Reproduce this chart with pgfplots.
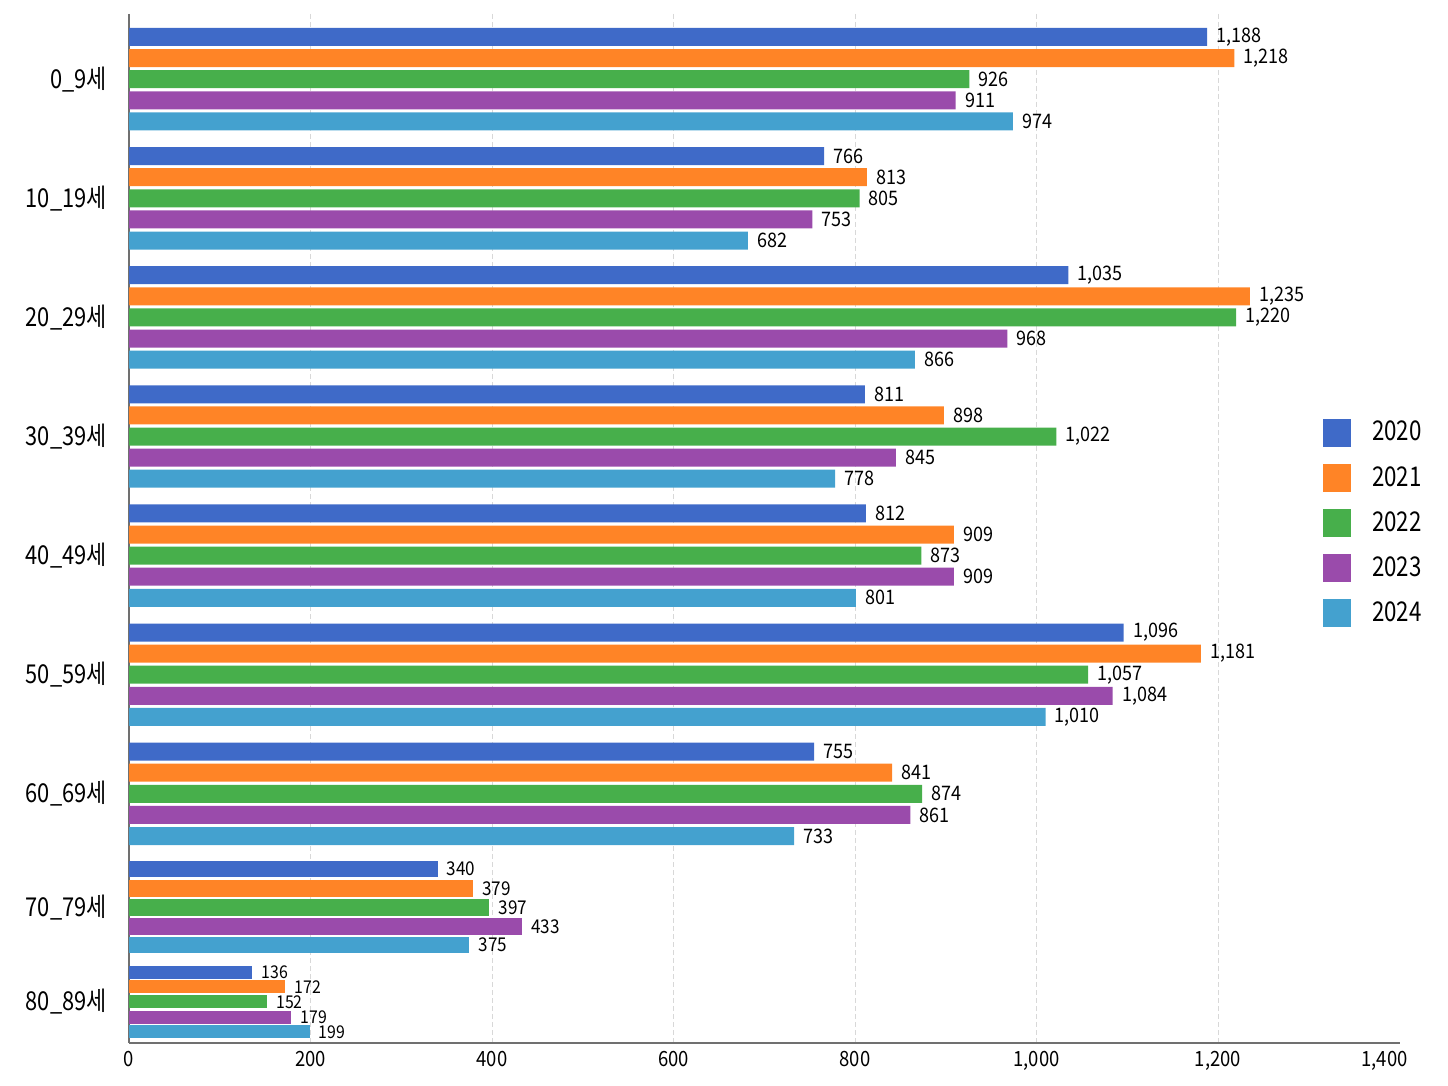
\documentclass[border=0pt]{standalone}
\usepackage{pgfplots}
\pgfplotsset{compat=1.18}
\usepackage{fontspec}
\setmainfont{Noto Sans CJK KR}
\newfontfamily\condfont{Noto Sans CJK KR}[FakeStretch=0.84]
\newfontfamily\legfont{Noto Sans CJK KR}[FakeStretch=0.82]
\newfontfamily\valfont{Noto Sans CJK KR}[FakeStretch=0.9]
\newfontfamily\tickfont{Noto Sans CJK KR}[FakeStretch=0.88]
\definecolor{cA}{HTML}{3F6AC8}
\definecolor{cB}{HTML}{FF8426}
\definecolor{cC}{HTML}{47AF4B}
\definecolor{cD}{HTML}{9A4BAB}
\definecolor{cE}{HTML}{44A1CF}
\definecolor{axisgray}{HTML}{707070}
\definecolor{gridgray}{HTML}{D8D8D8}
\begin{document}
\begin{tikzpicture}
\useasboundingbox (0,0) rectangle (724bp,543bp);
\begin{axis}[
  at={(64.5bp,21.5bp)}, anchor=south west,
  scale only axis, width=635.25bp, height=514.5bp,
  xmin=0, xmax=1400, ymin=14, ymax=1043, y dir=reverse,
  axis lines=left, axis line style={draw=axisgray, line width=0.75bp, -},
  major tick length=0pt, tick style={draw=none},
  /pgf/number format/.cd, 1000 sep={,}, assume math mode=true, /pgfplots/.cd,
  xtick={0,200,...,1200},
  xmajorgrids, major grid style={draw=gridgray, line width=0.5bp, dash pattern=on 2.5bp off 1.5bp},
  extra x ticks={1400},
  extra x tick style={grid=none, xticklabel style={xshift=-7.5bp}},
  xticklabel style={font=\tickfont\fontsize{10.5bp}{12bp}\selectfont, anchor=north, inner sep=0pt, yshift=-4bp},
  ytick={79.2,198.3,317.4,436.5,555.6,674.7,793.8,907.3,1001.9},
  yticklabels={0\_9세,10\_19세,20\_29세,30\_39세,40\_49세,50\_59세,60\_69세,70\_79세,80\_89세},
  yticklabel style={font=\condfont\fontsize{13bp}{15bp}\selectfont, anchor=east, inner sep=0pt, xshift=-11bp},
  mybar/.style={xbar, draw=none, bar shift=0pt, nodes near coords,
    every node near coord/.append style={anchor=west, inner sep=0pt, xshift=4.5bp, text=black, font=\valfont\fontsize{10bp}{12bp}\selectfont}},
  smallA/.style={every node near coord/.append style={font=\valfont\fontsize{9.5bp}{11bp}\selectfont}},
  smallB/.style={every node near coord/.append style={font=\valfont\fontsize{8.8bp}{10bp}\selectfont}},
  legend cell align=left,
  legend image code/.code={\fill[#1] (0bp,-7bp) rectangle (14bp,7bp);},
  legend style={draw=none, fill=none, inner sep=0pt, outer sep=0pt,
    row sep=8.6bp, column sep=10.5bp,
    nodes={inner sep=0pt, font=\legfont\fontsize{13.6bp}{15bp}\selectfont},
    at={(axis cs:1315.7,418.5)}, anchor=north west},
]
% 2020
\addplot[mybar, fill=cA, bar width=18] coordinates {(1188,37.0) (766,156.1) (1035,275.2) (811,394.3) (812,513.4) (1096,632.5) (755,751.6)};
\addlegendentry{2020}
% 2021
\addplot[mybar, fill=cB, bar width=18] coordinates {(1218,58.1) (813,177.2) (1235,296.3) (898,415.4) (909,534.5) (1181,653.6) (841,772.7)};
\addlegendentry{2021}
% 2022
\addplot[mybar, fill=cC, bar width=18] coordinates {(926,79.2) (805,198.3) (1220,317.4) (1022,436.5) (873,555.6) (1057,674.7) (874,793.8)};
\addlegendentry{2022}
% 2023
\addplot[mybar, fill=cD, bar width=18] coordinates {(911,100.3) (753,219.4) (968,338.5) (845,457.6) (909,576.7) (1084,695.8) (861,814.9)};
\addlegendentry{2023}
% 2024
\addplot[mybar, fill=cE, bar width=18] coordinates {(974,121.4) (682,240.5) (866,359.6) (778,478.7) (801,597.8) (1010,716.9) (733,836.0)};
\addlegendentry{2024}
% 70_79
\addplot[mybar, smallA, fill=cA, bar width=16.5, forget plot] coordinates {(340,869.0)};
\addplot[mybar, smallA, fill=cB, bar width=16.5, forget plot] coordinates {(379,888.3)};
\addplot[mybar, smallA, fill=cC, bar width=16.5, forget plot] coordinates {(397,907.5)};
\addplot[mybar, smallA, fill=cD, bar width=16.5, forget plot] coordinates {(433,926.5)};
\addplot[mybar, smallA, fill=cE, bar width=16.5, forget plot] coordinates {(375,945.0)};
% 80_89
\addplot[mybar, smallB, fill=cA, bar width=13, forget plot] coordinates {(136,972.2)};
\addplot[mybar, smallB, fill=cB, bar width=13, forget plot] coordinates {(172,986.8)};
\addplot[mybar, smallB, fill=cC, bar width=13, forget plot] coordinates {(152,1001.8)};
\addplot[mybar, smallB, fill=cD, bar width=13, forget plot] coordinates {(179,1017.0)};
\addplot[mybar, smallB, fill=cE, bar width=13, forget plot] coordinates {(199,1031.8)};
\end{axis}
\end{tikzpicture}
\end{document}
